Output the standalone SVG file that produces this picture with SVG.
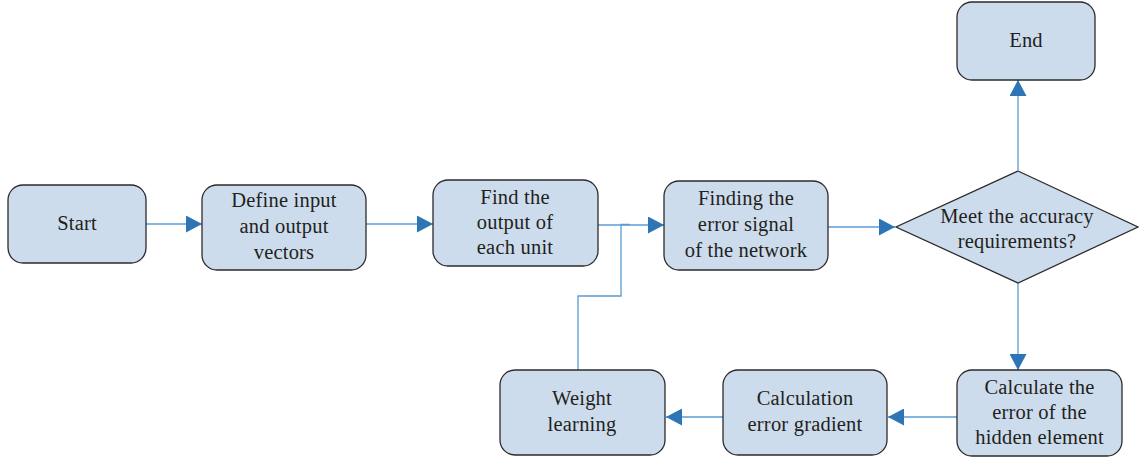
<svg xmlns="http://www.w3.org/2000/svg" width="1139" height="460" viewBox="0 0 1139 460">
<style>
.box{fill:#cddced;stroke:#2b2b2b;stroke-width:1.3}
.t{font-family:"Liberation Serif","Times New Roman",serif;font-size:20.5px;letter-spacing:0.2px;fill:#231f20;text-anchor:middle;dominant-baseline:central}
.c{fill:none;stroke:#5b9bd5;stroke-width:1.3}
</style>
<defs>
<marker id="ah" viewBox="0 0 10 10" refX="10" refY="5" markerWidth="16" markerHeight="17" markerUnits="userSpaceOnUse" orient="auto" preserveAspectRatio="none">
<path d="M0,0 L10,5 L0,10 Z" fill="#2e75b6"/>
</marker>
</defs>
<rect width="1139" height="460" fill="#ffffff"/>
<g id="connectors">
<line class="c" x1="146" y1="224" x2="202" y2="224" marker-end="url(#ah)"/>
<line class="c" x1="366" y1="224" x2="433" y2="224" marker-end="url(#ah)"/>
<line class="c" x1="598" y1="225" x2="664" y2="225" marker-end="url(#ah)"/>
<line class="c" x1="828" y1="227" x2="895" y2="227" marker-end="url(#ah)"/>
<line class="c" x1="1018" y1="170" x2="1018" y2="80" marker-end="url(#ah)"/>
<line class="c" x1="1018" y1="283" x2="1018" y2="370" marker-end="url(#ah)"/>
<line class="c" x1="957" y1="417" x2="888" y2="417" marker-end="url(#ah)"/>
<line class="c" x1="723" y1="417" x2="666" y2="417" marker-end="url(#ah)"/>
<polyline class="c" points="578,370 578,296 621,296 621,224.5 630,224.5"/>
</g>
<g id="start"><rect class="box" x="8" y="185" width="138" height="78" rx="15"/><text class="t" x="77" y="223">Start</text></g>
<g id="define"><rect class="box" x="202" y="185" width="164" height="85" rx="15"/><text class="t" x="284" y="200">Define input</text><text class="t" x="284" y="226">and output</text><text class="t" x="284" y="252">vectors</text></g>
<g id="findoutput"><rect class="box" x="433" y="180" width="165" height="86" rx="15"/><text class="t" x="515" y="197">Find the</text><text class="t" x="515" y="222">output of</text><text class="t" x="515" y="247">each unit</text></g>
<g id="errorsignal"><rect class="box" x="664" y="181" width="164" height="89" rx="15"/><text class="t" x="746" y="198">Finding the</text><text class="t" x="746" y="224">error signal</text><text class="t" x="746" y="250">of the network</text></g>
<g id="decision"><polygon class="box" points="1018,171 1138,227 1018,283 896,227"/><text class="t" x="1017" y="216">Meet the accuracy</text><text class="t" x="1017" y="241">requirements?</text></g>
<g id="end"><rect class="box" x="957" y="2" width="138" height="78" rx="15"/><text class="t" x="1026" y="40">End</text></g>
<g id="hidden"><rect class="box" x="957" y="370" width="165" height="86" rx="15"/><text class="t" x="1039.5" y="387">Calculate the</text><text class="t" x="1039.5" y="412">error of the</text><text class="t" x="1039.5" y="437">hidden element</text></g>
<g id="gradient"><rect class="box" x="723" y="370" width="164" height="85" rx="15"/><text class="t" x="805" y="398">Calculation</text><text class="t" x="805" y="424">error gradient</text></g>
<g id="weight"><rect class="box" x="500" y="370" width="165" height="85" rx="15"/><text class="t" x="582" y="398">Weight</text><text class="t" x="582" y="424">learning</text></g>
</svg>
